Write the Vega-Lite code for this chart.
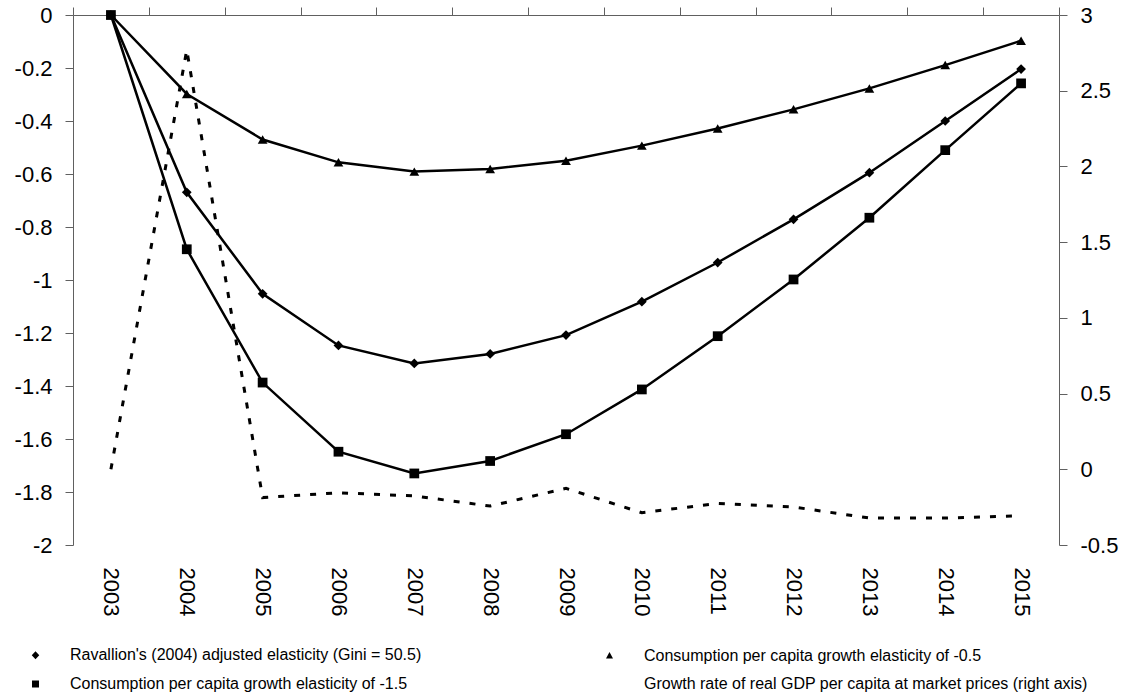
{
  "$schema": "https://vega.github.io/schema/vega-lite/v6.json",
  "autosize": "none",
  "width": 986,
  "height": 530,
  "padding": {"left": 73, "top": 15, "right": 79, "bottom": 151},
  "background": "white",
  "config": {
    "font": "Liberation Sans",
    "view": {"stroke": null},
    "axis": {
      "grid": false,
      "labelFont": "Liberation Sans",
      "labelFontSize": 22,
      "labelColor": "black",
      "domainColor": "#606060",
      "tickColor": "#606060",
      "domainWidth": 1,
      "tickWidth": 1
    }
  },
  "data": {
    "values": [
      {"year": "2003", "series": "Ravallion's (2004) adjusted elasticity (Gini = 50.5)", "value": 0},
      {"year": "2004", "series": "Ravallion's (2004) adjusted elasticity (Gini = 50.5)", "value": -0.669},
      {"year": "2005", "series": "Ravallion's (2004) adjusted elasticity (Gini = 50.5)", "value": -1.052},
      {"year": "2006", "series": "Ravallion's (2004) adjusted elasticity (Gini = 50.5)", "value": -1.247},
      {"year": "2007", "series": "Ravallion's (2004) adjusted elasticity (Gini = 50.5)", "value": -1.315},
      {"year": "2008", "series": "Ravallion's (2004) adjusted elasticity (Gini = 50.5)", "value": -1.279},
      {"year": "2009", "series": "Ravallion's (2004) adjusted elasticity (Gini = 50.5)", "value": -1.208},
      {"year": "2010", "series": "Ravallion's (2004) adjusted elasticity (Gini = 50.5)", "value": -1.082},
      {"year": "2011", "series": "Ravallion's (2004) adjusted elasticity (Gini = 50.5)", "value": -0.934},
      {"year": "2012", "series": "Ravallion's (2004) adjusted elasticity (Gini = 50.5)", "value": -0.771},
      {"year": "2013", "series": "Ravallion's (2004) adjusted elasticity (Gini = 50.5)", "value": -0.595},
      {"year": "2014", "series": "Ravallion's (2004) adjusted elasticity (Gini = 50.5)", "value": -0.4},
      {"year": "2015", "series": "Ravallion's (2004) adjusted elasticity (Gini = 50.5)", "value": -0.204},
      {"year": "2003", "series": "Consumption per capita growth elasticity of -0.5", "value": 0},
      {"year": "2004", "series": "Consumption per capita growth elasticity of -0.5", "value": -0.298},
      {"year": "2005", "series": "Consumption per capita growth elasticity of -0.5", "value": -0.47},
      {"year": "2006", "series": "Consumption per capita growth elasticity of -0.5", "value": -0.556},
      {"year": "2007", "series": "Consumption per capita growth elasticity of -0.5", "value": -0.591},
      {"year": "2008", "series": "Consumption per capita growth elasticity of -0.5", "value": -0.581},
      {"year": "2009", "series": "Consumption per capita growth elasticity of -0.5", "value": -0.55},
      {"year": "2010", "series": "Consumption per capita growth elasticity of -0.5", "value": -0.493},
      {"year": "2011", "series": "Consumption per capita growth elasticity of -0.5", "value": -0.428},
      {"year": "2012", "series": "Consumption per capita growth elasticity of -0.5", "value": -0.356},
      {"year": "2013", "series": "Consumption per capita growth elasticity of -0.5", "value": -0.277},
      {"year": "2014", "series": "Consumption per capita growth elasticity of -0.5", "value": -0.189},
      {"year": "2015", "series": "Consumption per capita growth elasticity of -0.5", "value": -0.097},
      {"year": "2003", "series": "Consumption per capita growth elasticity of -1.5", "value": 0},
      {"year": "2004", "series": "Consumption per capita growth elasticity of -1.5", "value": -0.884},
      {"year": "2005", "series": "Consumption per capita growth elasticity of -1.5", "value": -1.387},
      {"year": "2006", "series": "Consumption per capita growth elasticity of -1.5", "value": -1.648},
      {"year": "2007", "series": "Consumption per capita growth elasticity of -1.5", "value": -1.73},
      {"year": "2008", "series": "Consumption per capita growth elasticity of -1.5", "value": -1.683},
      {"year": "2009", "series": "Consumption per capita growth elasticity of -1.5", "value": -1.582},
      {"year": "2010", "series": "Consumption per capita growth elasticity of -1.5", "value": -1.413},
      {"year": "2011", "series": "Consumption per capita growth elasticity of -1.5", "value": -1.212},
      {"year": "2012", "series": "Consumption per capita growth elasticity of -1.5", "value": -0.998},
      {"year": "2013", "series": "Consumption per capita growth elasticity of -1.5", "value": -0.765},
      {"year": "2014", "series": "Consumption per capita growth elasticity of -1.5", "value": -0.51},
      {"year": "2015", "series": "Consumption per capita growth elasticity of -1.5", "value": -0.258},
      {"year": "2003", "series": "Growth rate of real GDP per capita at market prices (right axis)", "value": 0},
      {"year": "2004", "series": "Growth rate of real GDP per capita at market prices (right axis)", "value": 2.77},
      {"year": "2005", "series": "Growth rate of real GDP per capita at market prices (right axis)", "value": -0.187},
      {"year": "2006", "series": "Growth rate of real GDP per capita at market prices (right axis)", "value": -0.155},
      {"year": "2007", "series": "Growth rate of real GDP per capita at market prices (right axis)", "value": -0.176},
      {"year": "2008", "series": "Growth rate of real GDP per capita at market prices (right axis)", "value": -0.243},
      {"year": "2009", "series": "Growth rate of real GDP per capita at market prices (right axis)", "value": -0.126},
      {"year": "2010", "series": "Growth rate of real GDP per capita at market prices (right axis)", "value": -0.287},
      {"year": "2011", "series": "Growth rate of real GDP per capita at market prices (right axis)", "value": -0.225},
      {"year": "2012", "series": "Growth rate of real GDP per capita at market prices (right axis)", "value": -0.249},
      {"year": "2013", "series": "Growth rate of real GDP per capita at market prices (right axis)", "value": -0.322},
      {"year": "2014", "series": "Growth rate of real GDP per capita at market prices (right axis)", "value": -0.322},
      {"year": "2015", "series": "Growth rate of real GDP per capita at market prices (right axis)", "value": -0.307}
    ]
  },
  "layer": [
    {
      "transform": [{"filter": {"not": {"field": "series", "equal": "Growth rate of real GDP per capita at market prices (right axis)"}}}],
      "mark": {"type": "line", "color": "black", "strokeWidth": 2.5},
      "encoding": {
        "x": {
          "field": "year", "type": "ordinal", "bandPosition": 0.5,
          "scale": {"type": "band", "paddingInner": 0, "paddingOuter": 0},
          "axis": {"orient": "top", "title": null, "domain": true, "domainColor": "#606060", "domainWidth": 1, "ticks": true, "tickColor": "#606060", "tickWidth": 1, "tickBand": "extent", "tickSize": 8, "labelAngle": 90, "labelAlign": "left", "labelBaseline": "middle", "labelPadding": -560}
        },
        "y": {
          "field": "value", "type": "quantitative",
          "scale": {"domain": [-2, 0], "nice": false, "zero": false},
          "axis": {"orient": "left", "title": null, "values": [0, -0.2, -0.4, -0.6, -0.8, -1, -1.2, -1.4, -1.6, -1.8, -2], "labelExpr": "'' + datum.value", "tickSize": 8, "labelPadding": 13}
        },
        "detail": {"field": "series", "type": "nominal"}
      }
    },
    {
      "transform": [{"filter": {"not": {"field": "series", "equal": "Growth rate of real GDP per capita at market prices (right axis)"}}}],
      "mark": {"type": "point", "filled": true, "color": "black", "opacity": 1, "size": 95},
      "encoding": {
        "x": {
          "field": "year", "type": "ordinal", "bandPosition": 0.5,
          "scale": {"type": "band", "paddingInner": 0, "paddingOuter": 0}
        },
        "y": {
          "field": "value", "type": "quantitative",
          "scale": {"domain": [-2, 0], "nice": false, "zero": false},
          "axis": null
        },
        "shape": {
          "field": "series", "type": "nominal",
          "scale": {
            "domain": ["Ravallion's (2004) adjusted elasticity (Gini = 50.5)", "Consumption per capita growth elasticity of -1.5", "Consumption per capita growth elasticity of -0.5", "Growth rate of real GDP per capita at market prices (right axis)"],
            "range": ["diamond", "square", "triangle-up", "circle"]
          },
          "legend": null
        }
      }
    },
    {
      "transform": [{"filter": {"field": "series", "equal": "none"}}],
      "mark": {"type": "point", "filled": false, "color": "black", "fill": "black", "stroke": "black", "strokeWidth": 2.2, "opacity": 1},
      "encoding": {
        "x": {
          "field": "year", "type": "ordinal", "bandPosition": 0.5,
          "scale": {"type": "band", "paddingInner": 0, "paddingOuter": 0}
        },
        "y": {
          "field": "value", "type": "quantitative",
          "scale": {"domain": [-2, 0], "nice": false, "zero": false},
          "axis": null
        },
        "shape": {
          "field": "series", "type": "nominal",
          "scale": {
            "domain": ["Ravallion's (2004) adjusted elasticity (Gini = 50.5)", "Consumption per capita growth elasticity of -1.5", "Consumption per capita growth elasticity of -0.5", "Growth rate of real GDP per capita at market prices (right axis)"],
            "range": ["M-1.6,0H11M4.7,-0.8L5.45,0L4.7,0.8L3.95,0Z", "M-1.6,0H11M4,-0.7H5.4V0.7H4Z", "M-1.6,0H11M4,0.6L5.4,0.6L4.7,-0.7Z", "M-1.6,0H-0.6M0.7,0H1.7M3,0H4M5.3,0H6.3M7.6,0H8.6M9.9,0H10.9"]
          },
          "legend": {
            "title": null,
            "orient": "none",
            "legendX": -69,
            "legendY": 632,
            "columns": 2,
            "columnPadding": 151,
            "rowPadding": 12,
            "padding": 0,
            "labelFont": "Liberation Sans",
            "labelFontSize": 16,
            "labelColor": "black",
            "labelLimit": 700,
            "labelOffset": 50,
            "symbolSize": 100,
            "symbolFillColor": "black",
            "symbolStrokeColor": "black",
            "symbolStrokeWidth": 2.2,
            "symbolOpacity": 1
          }
        }
      }
    },
    {
      "transform": [{"filter": {"field": "series", "equal": "Growth rate of real GDP per capita at market prices (right axis)"}}],
      "mark": {"type": "line", "color": "black", "strokeWidth": 3, "strokeDash": [6, 10]},
      "encoding": {
        "x": {
          "field": "year", "type": "ordinal", "bandPosition": 0.5,
          "scale": {"type": "band", "paddingInner": 0, "paddingOuter": 0}
        },
        "y": {
          "field": "value", "type": "quantitative",
          "scale": {"domain": [-0.5, 3], "nice": false, "zero": false},
          "axis": {"orient": "right", "title": null, "values": [-0.5, 0, 0.5, 1, 1.5, 2, 2.5, 3], "labelExpr": "'' + datum.value", "tickSize": 8, "labelPadding": 13}
        }
      }
    }
  ],
  "resolve": {"scale": {"y": "independent", "shape": "independent"}}
}
